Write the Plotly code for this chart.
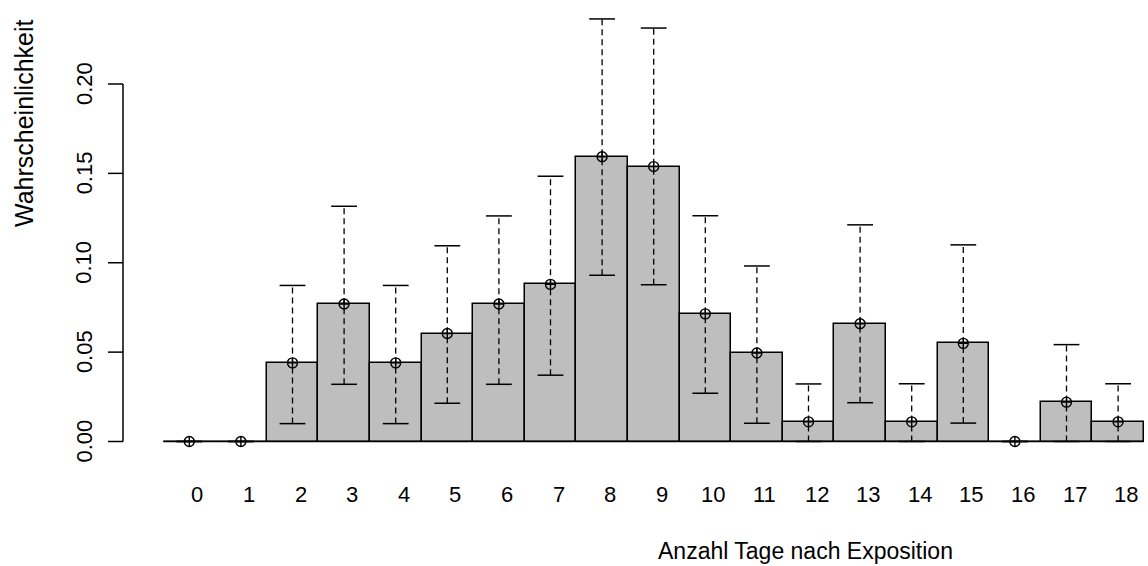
import plotly.graph_objects as go

# ---- data ----
days = list(range(19))
day_labels = [str(d) for d in days]
prob = [0.0, 0.0, 0.0440, 0.0769, 0.0440, 0.0604, 0.0769, 0.0879, 0.1593, 0.1538,
        0.0714, 0.0495, 0.0110, 0.0659, 0.0110, 0.0549, 0.0, 0.0220, 0.0110]
lower = [0.0, 0.0, 0.0100, 0.0320, 0.0100, 0.0214, 0.0320, 0.0371, 0.0930, 0.0877,
         0.0270, 0.0102, 0.0, 0.0217, 0.0, 0.0103, 0.0, 0.0, 0.0]
upper = [0.0, 0.0, 0.0873, 0.1316, 0.0873, 0.1095, 0.1262, 0.1484, 0.2364, 0.2313,
         0.1263, 0.0982, 0.0322, 0.1212, 0.0323, 0.1100, 0.0, 0.0542, 0.0323]
y_ticks = [0.0, 0.05, 0.10, 0.15, 0.20]
y_tick_labels = ["0.00", "0.05", "0.10", "0.15", "0.20"]
x_title = "Anzahl Tage nach Exposition"
y_title = "Wahrscheinlichkeit"

# ---- geometry ----
W, H = 1148, 566
ML, MR, MT, MB = 124, 0, 2, 108
PW, PH = W - ML - MR, H - MT - MB
px_per_unit = 51.6
x0 = -0.5 - (163.5 - ML) / px_per_unit
x1 = x0 + PW / px_per_unit
y_px_per_unit = 1787.5
y0 = -(MT + PH - 441.5) / y_px_per_unit
y1 = y0 + PH / y_px_per_unit

def px2paper_x(px):
    return (px - ML) / PW

def px2paper_y(py):
    return (MT + PH - py) / PH

FONT = "Liberation Sans, Arial, Helvetica, sans-serif"
cap = 0.25

fig = go.Figure()
fig.add_trace(go.Bar(x=days, y=prob, width=1.0,
                     marker=dict(color="#BEBEBE", line=dict(color="black", width=1.5)),
                     showlegend=False, hoverinfo="skip"))

# dashed vertical error lines
vx, vy = [], []
for d, lo, hi in zip(days, lower, upper):
    vx += [d, d, None]
    vy += [lo, hi, None]
fig.add_trace(go.Scatter(x=vx, y=vy, mode="lines",
                         line=dict(color="black", width=1.3, dash="6px,4px"),
                         showlegend=False, hoverinfo="skip"))
# caps
cx, cy = [], []
for d, lo, hi in zip(days, lower, upper):
    cx += [d - cap, d + cap, None, d - cap, d + cap, None]
    cy += [lo, lo, None, hi, hi, None]
fig.add_trace(go.Scatter(x=cx, y=cy, mode="lines",
                         line=dict(color="black", width=1.5),
                         showlegend=False, hoverinfo="skip"))
# points
fig.add_trace(go.Scatter(x=days, y=prob, mode="markers",
                         marker=dict(symbol="circle-cross-open", size=10, color="black",
                                     line=dict(width=1.4, color="black")),
                         showlegend=False, hoverinfo="skip"))

shapes = []
# baseline (zero-height bars)
shapes.append(dict(type="line", xref="x", yref="y", x0=min(days) - 0.5, x1=max(days) + 0.5,
                   y0=0, y1=0, line=dict(color="black", width=1.5)))
# y axis line and ticks
ax_x = px2paper_x(123)
tick_x = px2paper_x(108)
shapes.append(dict(type="line", xref="paper", yref="y", x0=ax_x, x1=ax_x,
                   y0=y_ticks[0], y1=y_ticks[-1], line=dict(color="black", width=1.5)))
for t in y_ticks:
    shapes.append(dict(type="line", xref="paper", yref="y", x0=tick_x, x1=ax_x,
                       y0=t, y1=t, line=dict(color="black", width=1.5)))

annotations = []
for t, lab in zip(y_ticks, y_tick_labels):
    annotations.append(dict(x=px2paper_x(84), y=t, xref="paper", yref="y", text=lab,
                            textangle=-90, showarrow=False, xanchor="center", yanchor="middle",
                            font=dict(family=FONT, size=22, color="black")))
label_shift = 8 / px_per_unit
for d, lab in zip(days, day_labels):
    annotations.append(dict(x=d + label_shift, y=px2paper_y(494.5), xref="x", yref="paper",
                            text=lab, showarrow=False, xanchor="center", yanchor="middle",
                            font=dict(family=FONT, size=22, color="black")))
annotations.append(dict(x=px2paper_x(805), y=px2paper_y(551), xref="paper", yref="paper",
                        text=x_title, showarrow=False, xanchor="center", yanchor="middle",
                        font=dict(family=FONT, size=23, color="black")))
annotations.append(dict(x=px2paper_x(24), y=px2paper_y(123), xref="paper", yref="paper",
                        text=y_title, textangle=-90, showarrow=False,
                        xanchor="center", yanchor="middle",
                        font=dict(family=FONT, size=25, color="black")))

fig.update_layout(
    width=W, height=H,
    margin=dict(l=ML, r=MR, t=MT, b=MB, pad=0),
    paper_bgcolor="white", plot_bgcolor="white",
    xaxis=dict(range=[x0, x1], showgrid=False, zeroline=False, showline=False,
               showticklabels=False, ticks=""),
    yaxis=dict(range=[y0, y1], showgrid=False, zeroline=False, showline=False,
               showticklabels=False, ticks=""),
    shapes=shapes, annotations=annotations, bargap=0,
)
fig.write_html("out.html")
